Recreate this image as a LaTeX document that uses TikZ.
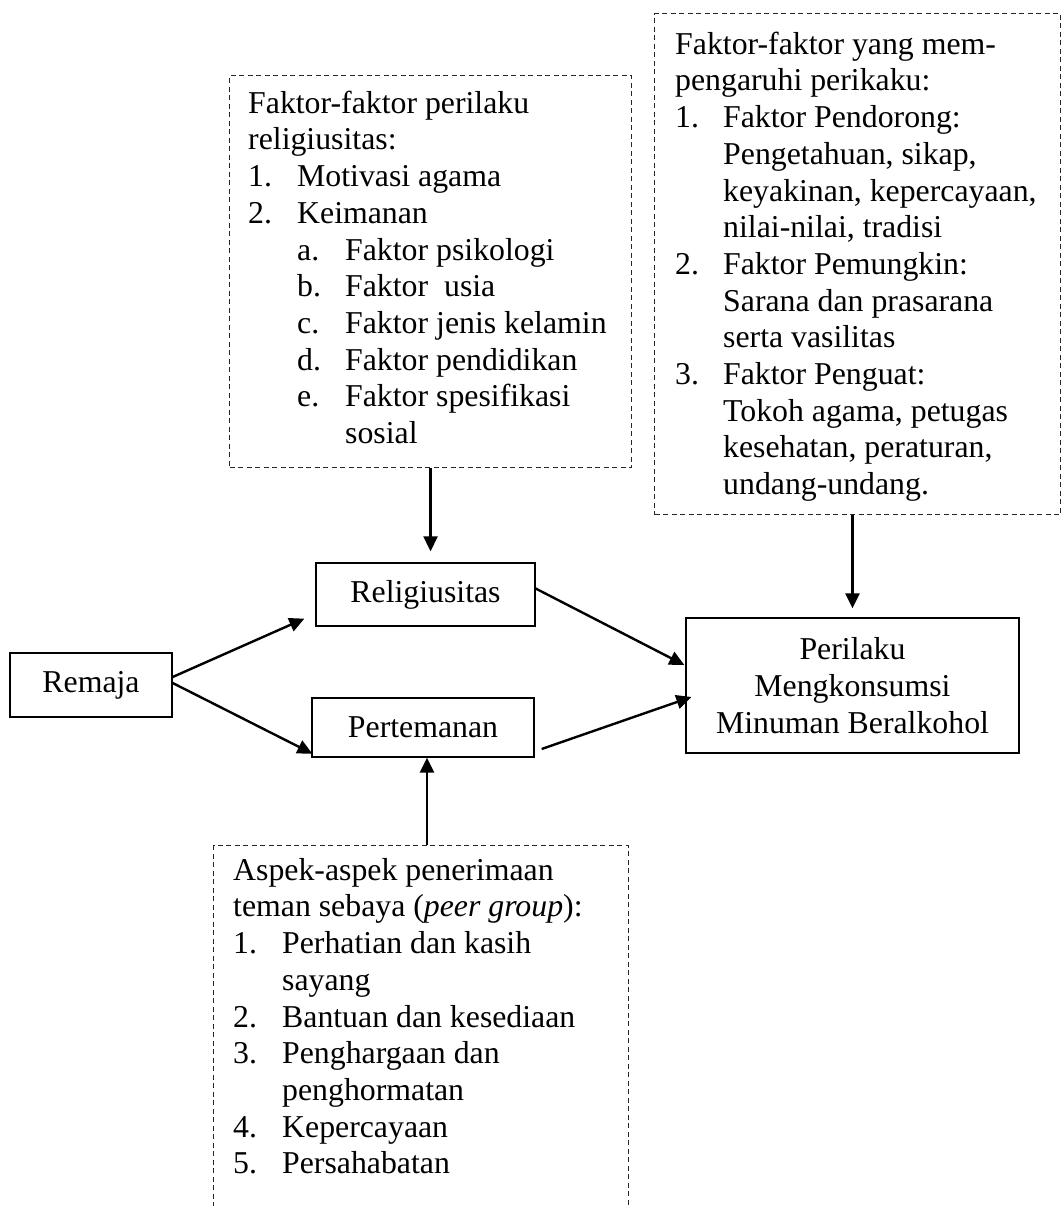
\documentclass[tikz,border=0pt]{standalone}
\usepackage{fontspec}
\setmainfont{Liberation Serif}
\usetikzlibrary{arrows.meta,calc}
\newcommand\mylbl[1]{\makebox[49pt][l]{#1}}
\newcommand\mylblb[1]{\makebox[48pt][l]{#1}}
\begin{document}
\begin{tikzpicture}[x=1pt,y=-1pt,
  every node/.style={font=\fontsize{31.8}{36.7}\selectfont, inner sep=0pt},
  sbox/.style={draw, line width=1.3pt, align=center},
  dbox/.style={draw=black!85, line width=1.1pt, dash pattern=on 5pt off 3.5pt},
  txt/.style={align=left, anchor=north west},
  arr/.style={line width=2.4pt, -{Triangle[length=15pt,width=14pt]}}
]
\useasboundingbox (0,0) rectangle (1061,1206);
\clip (0,0) rectangle (1061,1206);

% solid boxes
\node[sbox, minimum width=162pt, minimum height=64pt] (rem) at (91,685) {Remaja};
\node[sbox, minimum width=219pt, minimum height=63pt] (rel) at (425.5,594.5) {Religiusitas};
\node[sbox, minimum width=222pt, minimum height=59pt] (per) at (423,727.5) {Pertemanan};
\node[sbox, minimum width=333pt, minimum height=135pt] (peri) at (852.5,685.5) {Perilaku\\Mengkonsumsi\\Minuman Beralkohol};

% dashed boxes
\node[dbox, minimum width=402pt, minimum height=392pt, anchor=north west] (f1) at (229,75) {};
\node[dbox, minimum width=406pt, minimum height=501pt, anchor=north west] (f2) at (654,13) {};
\node[dbox, minimum width=415pt, minimum height=420pt, anchor=north west] (f3) at (213,845) {};

% texts in dashed boxes
\node[txt] (t1) at (248,85) {\rule{0pt}{28pt}Faktor-faktor perilaku\\
religiusitas:\\
\mylbl{1.}Motivasi agama\\
\mylbl{2.}Keimanan\\
\hspace*{49pt}\mylblb{a.}Faktor psikologi\\
\hspace*{49pt}\mylblb{b.}Faktor~\ usia\\
\hspace*{49pt}\mylblb{c.}Faktor jenis kelamin\\
\hspace*{49pt}\mylblb{d.}Faktor pendidikan\\
\hspace*{49pt}\mylblb{e.}Faktor spesifikasi\\
\hspace*{97pt}sosial};

\node[txt] (t2) at (675,26) {\rule{0pt}{28pt}Faktor-faktor yang mem-\\
pengaruhi perikaku:\\
\mylblb{1.}Faktor Pendorong:\\
\hspace*{48pt}Pengetahuan, sikap,\\
\hspace*{48pt}keyakinan, kepercayaan,\\
\hspace*{48pt}nilai-nilai, tradisi\\
\mylblb{2.}Faktor Pemungkin:\\
\hspace*{48pt}Sarana dan prasarana\\
\hspace*{48pt}serta vasilitas\\
\mylblb{3.}Faktor Penguat:\\
\hspace*{48pt}Tokoh agama, petugas\\
\hspace*{48pt}kesehatan, peraturan,\\
\hspace*{48pt}undang-undang.};

\node[txt] (t3) at (233,852) {\rule{0pt}{28pt}Aspek-aspek penerimaan\\
teman sebaya (\textit{peer group}):\\
\mylbl{1.}Perhatian dan kasih\\
\hspace*{49pt}sayang\\
\mylbl{2.}Bantuan dan kesediaan\\
\mylbl{3.}Penghargaan dan\\
\hspace*{49pt}penghormatan\\
\mylbl{4.}Kepercayaan\\
\mylbl{5.}Persahabatan};

% arrows
\draw[arr] (f1.south) -- ([yshift=11pt]f1.south |- rel.north);
\draw[arr] (f2.south -| peri.north) -- ([yshift=9pt]peri.north);
\draw[arr] ([xshift=4pt]per.south |- f3.north) -- ([xshift=4pt]per.south);
\draw[arr] ([yshift=8pt]rem.east) -- ([xshift=-11pt,yshift=8pt]rel.south west);
\draw[arr] ([yshift=2pt]rem.east) -- ([xshift=1pt,yshift=4pt]per.south west);
\draw[arr] ([xshift=-1pt,yshift=6.5pt]rel.east) -- ([xshift=-1pt,yshift=20.5pt]peri.west);
\draw[arr] ([xshift=7pt,yshift=-21.5pt]per.east) -- ([xshift=6pt,yshift=-11.5pt]peri.west);
\end{tikzpicture}
\end{document}
